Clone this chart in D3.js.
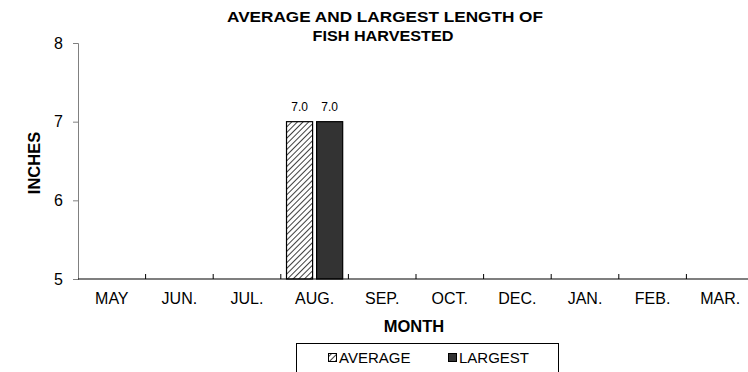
<!DOCTYPE html>
<html>
<head>
<meta charset="utf-8">
<script src="https://cdn.jsdelivr.net/npm/d3@7"></script>
<style>
  body { margin: 0; background: #fff; }
  svg { font-family: Arial, "Liberation Sans", sans-serif; }
</style>
</head>
<body>
<svg id="chart" width="748" height="372"></svg>
<script>
// chart data
let months = ['MAY', 'JUN.', 'JUL.', 'AUG.', 'SEP.', 'OCT.', 'DEC.', 'JAN.', 'FEB.', 'MAR.']
let seriesNames = ['AVERAGE', 'LARGEST']
let averageLen = [null, null, null, 7.0, null, null, null, null, null, null]
let largestLen = [null, null, null, 7.0, null, null, null, null, null, null]
let yTicks = [5, 6, 7, 8]

function main() {
    let svg = d3.select('#chart'),
        margin = {left: 78, right: -6, top: 43, bottom: 93},
        w = +svg.attr('width'),
        h = +svg.attr('height')

    let defs = svg.append('defs')
    let pat = defs.append('pattern')
        .attr('id', 'hatch')
        .attr('patternUnits', 'userSpaceOnUse')
        .attr('width', 4)
        .attr('height', 4)
        .attr('patternTransform', 'rotate(45)')
    pat.append('rect').attr('width', 4).attr('height', 4).attr('fill', '#fff')
    pat.append('line')
        .attr('x1', 0).attr('y1', 0).attr('x2', 0).attr('y2', 4)
        .attr('stroke', '#000').attr('stroke-width', 1.5)

    let xScale = d3.scaleBand().domain(months).range([margin.left, w - margin.right]).padding(0)
    let inner = d3.scaleBand().domain(seriesNames).range([0, xScale.bandwidth()])
        .paddingInner(0.133).paddingOuter(0.19)
    let yScale = d3.scaleLinear().domain([5, 8]).range([h - margin.bottom, margin.top])

    let fills = {AVERAGE: 'url(#hatch)', LARGEST: '#333333'}
    let rows = []
    months.forEach((m, i) => {
        if (averageLen[i] != null) rows.push({month: m, name: 'AVERAGE', value: averageLen[i]})
        if (largestLen[i] != null) rows.push({month: m, name: 'LARGEST', value: largestLen[i]})
    })

    // title
    svg.append('text')
        .attr('x', 385).attr('y', 22)
        .attr('text-anchor', 'middle')
        .attr('font-size', 15.5).attr('font-weight', 'bold')
        .attr('textLength', 316).attr('lengthAdjust', 'spacingAndGlyphs')
        .text('AVERAGE AND LARGEST LENGTH OF')
    svg.append('text')
        .attr('x', 383).attr('y', 41)
        .attr('text-anchor', 'middle')
        .attr('font-size', 15.5).attr('font-weight', 'bold')
        .attr('textLength', 141).attr('lengthAdjust', 'spacingAndGlyphs')
        .text('FISH HARVESTED')

    // bars
    svg.selectAll('rect.bar')
        .data(rows)
        .enter()
        .append('rect')
        .attr('class', 'bar')
        .attr('x', d => xScale(d.month) + inner(d.name))
        .attr('y', d => yScale(d.value))
        .attr('width', inner.bandwidth())
        .attr('height', d => yScale(5) - yScale(d.value))
        .attr('fill', d => fills[d.name])
        .attr('stroke', '#000')
        .attr('stroke-width', 1.2)

    svg.selectAll('text.val')
        .data(rows)
        .enter()
        .append('text')
        .attr('class', 'val')
        .attr('x', d => xScale(d.month) + inner(d.name) + inner.bandwidth() / 2)
        .attr('y', d => yScale(d.value) - 11)
        .attr('text-anchor', 'middle')
        .attr('font-size', 12)
        .attr('fill', '#000')
        .text(d => d3.format('.1f')(d.value))

    // y axis
    let yAxis = svg.append('g')
        .attr('transform', 'translate(' + margin.left + ',0)')
        .call(d3.axisLeft(yScale).tickValues(yTicks).tickFormat(d3.format('d')).tickSize(5).tickPadding(10))
    yAxis.selectAll('path, line').attr('stroke', '#808080')
    yAxis.selectAll('text').attr('font-size', 16).attr('fill', '#000')
        .attr('font-family', 'Arial, "Liberation Sans", sans-serif')

    // x axis
    let y0 = yScale(5)
    svg.append('line')
        .attr('x1', margin.left).attr('x2', w)
        .attr('y1', y0).attr('y2', y0)
        .attr('stroke', '#000').attr('stroke-width', 1.2)
    svg.selectAll('line.xtick')
        .data(months.slice(1).concat(['end']))
        .enter()
        .append('line')
        .attr('class', 'xtick')
        .attr('x1', d => d === 'end' ? xScale.range()[1] : xScale(d))
        .attr('x2', d => d === 'end' ? xScale.range()[1] : xScale(d))
        .attr('y1', y0).attr('y2', y0 - 5)
        .attr('stroke', '#000')
    svg.selectAll('text.xlab')
        .data(months)
        .enter()
        .append('text')
        .attr('class', 'xlab')
        .attr('x', d => xScale(d) + xScale.bandwidth() / 2)
        .attr('y', y0 + 25)
        .attr('text-anchor', 'middle')
        .attr('font-size', 16)
        .text(d => d)

    // axis titles
    svg.append('text')
        .attr('x', 414).attr('y', 332)
        .attr('text-anchor', 'middle')
        .attr('font-size', 16.5).attr('font-weight', 'bold')
        .text('MONTH')
    svg.append('text')
        .attr('transform', 'translate(40,163) rotate(-90)')
        .attr('text-anchor', 'middle')
        .attr('font-size', 16.5).attr('font-weight', 'bold')
        .text('INCHES')

    // legend
    let legend = svg.append('g')
    legend.append('rect')
        .attr('x', 296.5).attr('y', 343.5)
        .attr('width', 262).attr('height', 40)
        .attr('fill', '#fff').attr('stroke', '#000')
    let lx = {AVERAGE: 328, LARGEST: 448}
    seriesNames.forEach(name => {
        legend.append('rect')
            .attr('x', lx[name] + 0.5).attr('y', 353.5)
            .attr('width', 8).attr('height', 8)
            .attr('fill', fills[name]).attr('stroke', '#000')
        legend.append('text')
            .attr('x', lx[name] + 11).attr('y', 363)
            .attr('font-size', 15)
            .text(name)
    })
}

main()
</script>
</body>
</html>
